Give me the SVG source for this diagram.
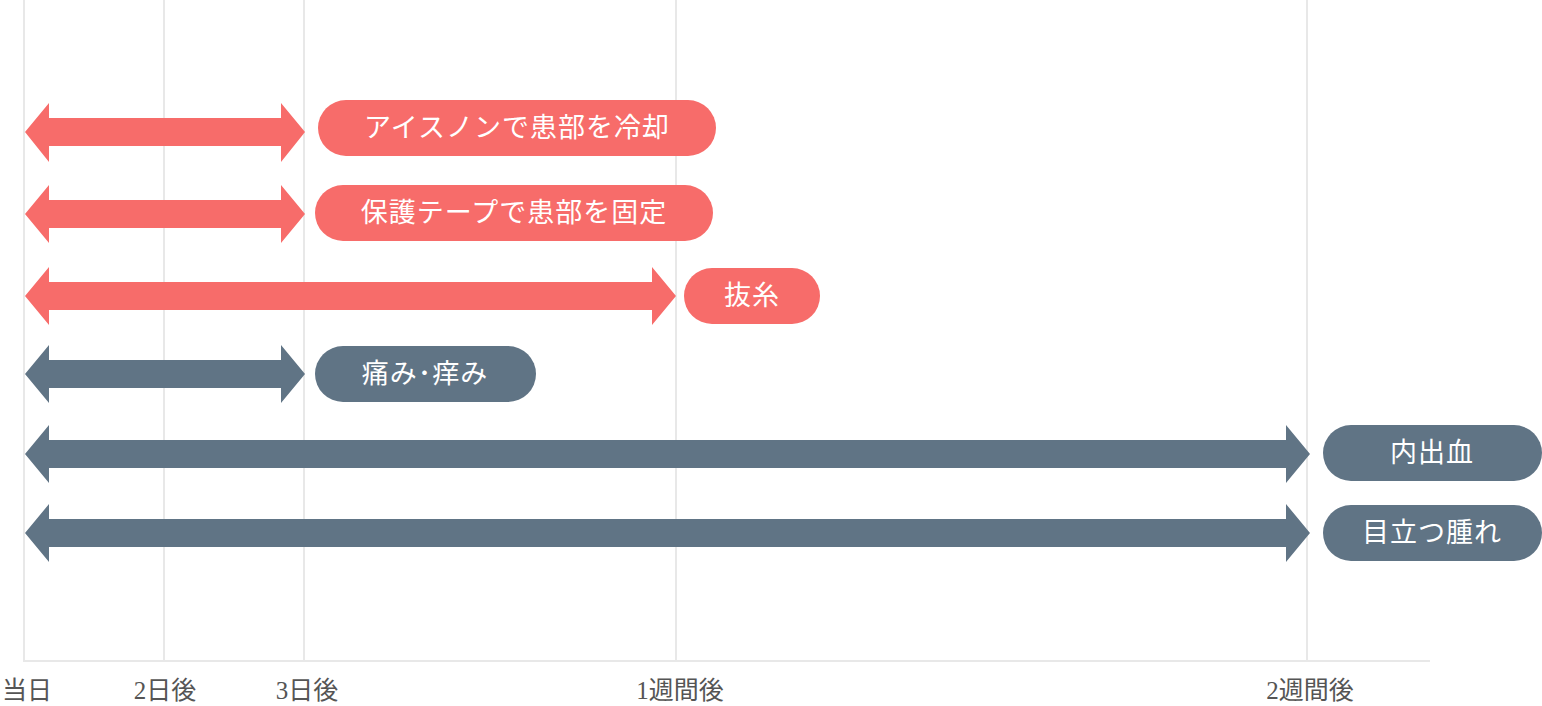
<svg xmlns="http://www.w3.org/2000/svg" width="1542" height="706" viewBox="0 0 1542 706">
<style>
.g{stroke:#e8e8e8;stroke-width:2}
.r{fill:#f76c6a}.s{fill:#607485}
.t{fill:#fff;font-family:"Liberation Serif","Noto Sans CJK JP",serif;font-size:27px;text-anchor:middle;letter-spacing:1px}
.a{fill:#555;font-family:"Liberation Serif","Noto Sans CJK JP",serif;font-size:25px;text-anchor:middle}
</style>
<defs>
<path id="h" d="M0 0 L24 -29 L24 -14 L0 -14 Z"/>
</defs>
<g id="grid">
<line class="g" x1="24" y1="0" x2="24" y2="661"/>
<line class="g" x1="164" y1="0" x2="164" y2="661"/>
<line class="g" x1="304" y1="0" x2="304" y2="661"/>
<line class="g" x1="676" y1="0" x2="676" y2="661"/>
<line class="g" x1="1307" y1="0" x2="1307" y2="661"/>
<line class="g" x1="23" y1="661" x2="1430" y2="661"/>
</g>
<g id="axis">
<text class="a" x="27" y="699">当日</text>
<text class="a" x="165" y="699">2日後</text>
<text class="a" x="307" y="699">3日後</text>
<text class="a" x="680" y="699">1週間後</text>
<text class="a" x="1310" y="699">2週間後</text>
</g>
<g id="connectors">
<path class="r" d="M25 132 L49 103 L49 118 L281 118 L281 103 L305 132 L281 162 L281 146 L49 146 L49 162 Z"/>
<path class="r" d="M25 214 L49 185 L49 200 L281 200 L281 185 L305 214 L281 243 L281 228 L49 228 L49 243 Z"/>
<path class="r" d="M25 296 L49 267 L49 282 L652 282 L652 267 L676 296 L652 325 L652 310 L49 310 L49 325 Z"/>
<path class="s" d="M25 374 L49 345 L49 360 L281 360 L281 345 L305 374 L281 403 L281 388 L49 388 L49 403 Z"/>
<path class="s" d="M25 454 L49 425 L49 440 L1286 440 L1286 425 L1310 454 L1286 483 L1286 468 L49 468 L49 483 Z"/>
<path class="s" d="M25 533 L49 504 L49 519 L1286 519 L1286 504 L1310 533 L1286 562 L1286 547 L49 547 L49 562 Z"/>
</g>
<g id="n1"><rect class="r" x="318" y="100" width="398" height="56" rx="28"/><text class="t" x="517" y="137">アイスノンで患部を冷却</text></g>
<g id="n2"><rect class="r" x="315" y="185" width="398" height="56" rx="28"/><text class="t" x="514" y="222">保護テープで患部を固定</text></g>
<g id="n3"><rect class="r" x="684" y="268" width="136" height="56" rx="28"/><text class="t" x="752" y="305">抜糸</text></g>
<g id="n4"><rect class="s" x="315" y="346" width="221" height="56" rx="28"/><text class="t" x="425" y="383">痛み･痒み</text></g>
<g id="n5"><rect class="s" x="1323" y="425" width="219" height="56" rx="28"/><text class="t" x="1432" y="462">内出血</text></g>
<g id="n6"><rect class="s" x="1323" y="505" width="219" height="56" rx="28"/><text class="t" x="1432" y="542">目立つ腫れ</text></g>
</svg>
